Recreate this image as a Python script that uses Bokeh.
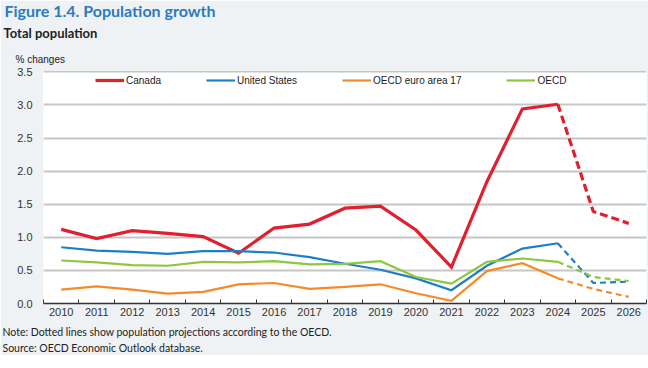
from bokeh.plotting import figure
from bokeh.models import Range1d, FixedTicker, PrintfTickFormatter, Title, Legend, LegendItem
from bokeh.embed import file_html
from bokeh.resources import INLINE

years = list(range(2010, 2027))
canada = [1.12, 0.98, 1.10, 1.06, 1.01, 0.76, 1.14, 1.20, 1.44, 1.47, 1.11, 0.55, 1.84, 2.94, 3.01, 1.39, 1.21]
united_states = [0.85, 0.80, 0.78, 0.75, 0.79, 0.79, 0.77, 0.70, 0.60, 0.51, 0.38, 0.20, 0.57, 0.83, 0.91, 0.31, 0.33]
euro_area = [0.21, 0.26, 0.21, 0.15, 0.175, 0.29, 0.31, 0.22, 0.25, 0.29, 0.155, 0.04, 0.49, 0.61, 0.38, 0.22, 0.10]
oecd = [0.65, 0.62, 0.58, 0.57, 0.63, 0.62, 0.64, 0.59, 0.60, 0.64, 0.40, 0.30, 0.63, 0.68, 0.63, 0.40, 0.34]
series_names = ["Canada", "United States", "OECD euro area 17", "OECD"]
series_values = [canada, united_states, euro_area, oecd]
last_actual_year = 2024
y_ticks = [0.0, 0.5, 1.0, 1.5, 2.0, 2.5, 3.0, 3.5]

colors = ["#e0202e", "#1f7fc4", "#f58a2a", "#8dc63f"]
widths = [3.2, 2.2, 2.2, 2.2]
dashes = ["8 4", "6 4", "6 4", "6 4"]

BG = "#eef2f5"
NARROW = "Liberation Sans"
SANS = "Lato"

p = figure(width=648, height=355, output_backend="svg", toolbar_location=None,
           x_range=Range1d(2009.5, 2026.5), y_range=Range1d(0, 3.52),
           min_border_left=43, min_border_right=2, min_border_top=0, min_border_bottom=52)
p.background_fill_color = "white"
p.border_fill_color = BG
p.outline_line_color = None

split = years.index(last_actual_year)
items = []
for name, vals, c, w, d in zip(series_names, series_values, colors, widths, dashes):
    r = p.line(years[:split + 1], vals[:split + 1], line_color=c, line_width=w, line_join="miter")
    p.line(years[split:], vals[split:], line_color=c, line_width=w, line_dash=d)
    items.append(LegendItem(label=name, renderers=[r]))

legend = Legend(items=items, orientation="horizontal", location=(52, 217),
                glyph_width=29, glyph_height=12, label_height=12, label_standoff=2,
                spacing=45, padding=0, margin=0,
                background_fill_alpha=0, border_line_alpha=0,
                label_text_font=NARROW, label_text_font_size="10px", label_text_color="#222")
p.add_layout(legend, "center")

# x axis
p.xaxis.ticker = FixedTicker(ticks=years, minor_ticks=[y - 0.5 for y in years] + [years[-1] + 0.5])
p.xaxis.major_tick_line_color = None
p.xaxis.major_tick_in = 0
p.xaxis.major_tick_out = 0
p.xaxis.minor_tick_in = 4
p.xaxis.minor_tick_out = 0
p.xaxis.minor_tick_line_color = "#333"
p.xaxis.axis_line_color = "#333"
p.xaxis.axis_line_width = 1.5
p.xaxis.major_label_text_font = NARROW
p.xaxis.major_label_text_font_size = "11px"
p.xaxis.major_label_text_color = "#333"
p.xaxis.major_label_standoff = 4
p.xgrid.grid_line_color = None

# y axis
p.yaxis.ticker = FixedTicker(ticks=y_ticks)
p.yaxis.formatter = PrintfTickFormatter(format="%.1f")
p.yaxis.axis_line_color = None
p.yaxis.major_tick_line_color = None
p.yaxis.minor_tick_line_color = None
p.yaxis.major_tick_in = 0
p.yaxis.major_tick_out = 0
p.yaxis.major_label_standoff = 11
p.yaxis.major_label_text_font = NARROW
p.yaxis.major_label_text_font_size = "11px"
p.yaxis.major_label_text_color = "#333"
p.ygrid.grid_line_color = "#c6c6c6"
p.ygrid.grid_line_width = 1.8

# titles (last added "above" is outermost)
p.add_layout(Title(text="% changes", align="left", offset=-28, standoff=12,
                   text_font=NARROW, text_font_size="10px", text_font_style="normal",
                   text_color="#222"), "above")
p.add_layout(Title(text="Total population", align="left", offset=-40, standoff=9,
                   text_font=SANS, text_font_size="13px", text_font_style="bold",
                   text_color="#222"), "above")
p.add_layout(Title(text="Figure 1.4. Population growth", align="left", offset=-39, standoff=-3,
                   text_font=SANS, text_font_size="16px", text_font_style="bold",
                   text_color="#2b7bc0"), "above")

# notes below
p.add_layout(Title(text="Note: Dotted lines show population projections according to the OECD.",
                   align="left", offset=-41, standoff=10, text_font=SANS, text_font_size="10.5px",
                   text_font_style="normal", text_color="#222"), "below")
p.add_layout(Title(text="Source: OECD Economic Outlook database.",
                   align="left", offset=-41, standoff=-5, text_font=SANS, text_font_size="10.5px",
                   text_font_style="normal", text_color="#222"), "below")

open("out.html", "w").write(file_html(p, INLINE))
